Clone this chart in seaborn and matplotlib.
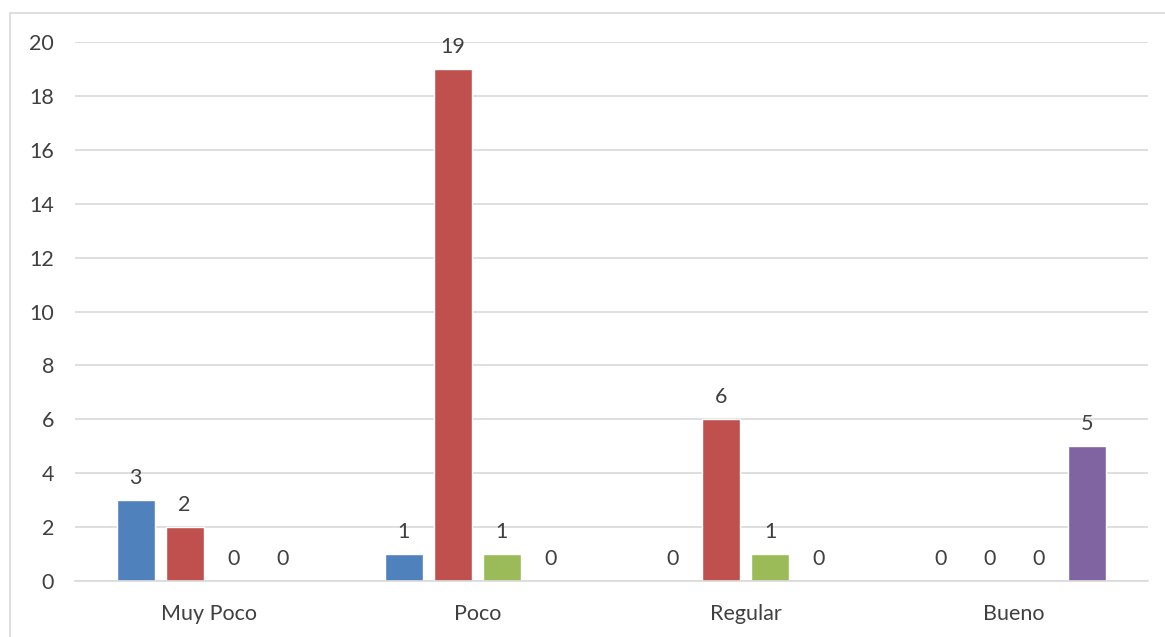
import pandas as pd
import seaborn as sns
import matplotlib.pyplot as plt
from matplotlib.patches import Rectangle

categories = ["Muy Poco", "Poco", "Regular", "Bueno"]
series = ["Serie 1", "Serie 2", "Serie 3", "Serie 4"]
serie1 = [3, 1, 0, 0]
serie2 = [2, 19, 6, 0]
serie3 = [0, 1, 1, 0]
serie4 = [0, 0, 0, 5]
colors = ["#4F81BD", "#C0504D", "#9BBB59", "#8064A2"]

rows = []
for name, vals in zip(series, [serie1, serie2, serie3, serie4]):
    for cat, v in zip(categories, vals):
        rows.append({"categoria": cat, "serie": name, "valor": v})
df = pd.DataFrame(rows)

sns.set_style("white")
plt.rcParams["font.family"] = ["Lato", "DejaVu Sans"]

fig = plt.figure(figsize=(11.65, 6.37), dpi=100)
ax = fig.add_axes([75 / 1165, 1 - 581 / 637, (1148 - 75) / 1165, (581 - 42) / 637])

sns.barplot(data=df, x="categoria", y="valor", hue="serie", order=categories,
            hue_order=series, palette=colors, width=0.73, gap=0.22,
            saturation=1, legend=False, ax=ax)

# etiquetas de datos encima de cada barra
for cont in ax.containers:
    ax.bar_label(cont, fmt="%d", padding=8.5, fontsize=15.5, color="#404040")

ax.set_ylim(0, 20)
ax.set_xlim(-0.5, 3.5)
ax.set_yticks(range(0, 21, 2))
ax.grid(axis="y", color="#d9d9d9", linewidth=1.2)
ax.set_axisbelow(True)
for s in ["top", "right", "left"]:
    ax.spines[s].set_visible(False)
ax.spines["bottom"].set_color("#d9d9d9")
ax.spines["bottom"].set_linewidth(1.2)
ax.tick_params(axis="both", length=0, labelsize=15.5, labelcolor="#404040")
ax.tick_params(axis="y", pad=15)
ax.tick_params(axis="x", pad=16.5)
ax.set_xlabel("")
ax.set_ylabel("")

fig.patches.append(Rectangle((10 / 1165, -0.05), 1.1, 1 - 13 / 637 + 0.05,
                             transform=fig.transFigure, fill=False,
                             edgecolor="#d9d9d9", linewidth=1.2))

fig.savefig("out.png", dpi=100)
